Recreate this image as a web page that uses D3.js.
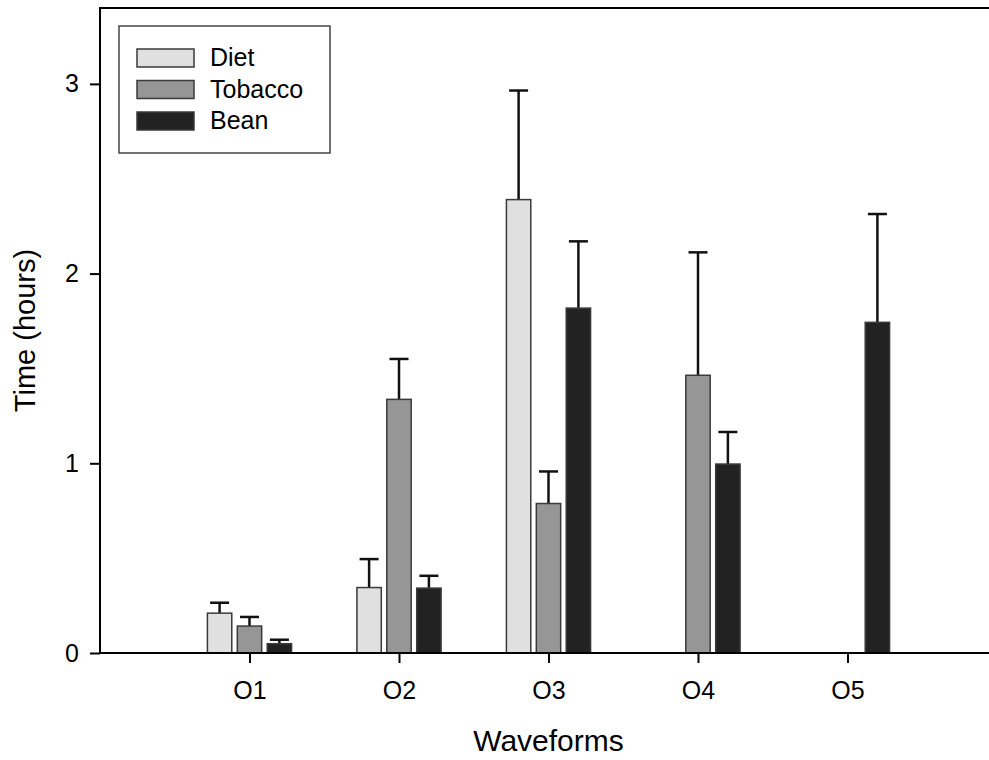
<!DOCTYPE html>
<html>
<head>
<meta charset="utf-8">
<script src="https://cdn.jsdelivr.net/npm/d3@7"></script>
<style>
  body { margin: 0; background: #fff; }
  text { font-family: "Liberation Sans", Arial, sans-serif; fill: #000; }
</style>
</head>
<body>
<div id="chart"></div>
<script>
// Données
const waveforms = ["O1", "O2", "O3", "O4", "O5"];
const seriesNames = ["Diet", "Tobacco", "Bean"];
const dietMeans = [0.21, 0.345, 2.39, null, null];
const dietErrors = [0.055, 0.15, 0.575, null, null];
const tobaccoMeans = [0.142, 1.337, 0.788, 1.464, null];
const tobaccoErrors = [0.048, 0.213, 0.169, 0.648, null];
const beanMeans = [0.049, 0.342, 1.818, 0.996, 1.743];
const beanErrors = [0.021, 0.065, 0.352, 0.169, 0.571];
const yTicks = [0, 1, 2, 3];

const colors = ["#e0e0e0", "#969696", "#222222"];
const means = [dietMeans, tobaccoMeans, beanMeans];
const errors = [dietErrors, tobaccoErrors, beanErrors];

const width = 989, height = 760;
const margin = { top: 8, right: -8, bottom: 107, left: 100 };

const svg = d3.select("#chart")
    .append("svg")
    .attr("width", width)
    .attr("height", height);

// Échelles : positions 1..5 sur un domaine 0..6
const x = d3.scaleLinear().domain([0, 6]).range([margin.left, width - margin.right]);
const y = d3.scaleLinear().domain([0, 3.4]).range([height - margin.bottom, margin.top]);

const barWidth = 0.163;   // en unités de catégorie
const barOffset = 0.2;

// Construction des barres
const bars = [];
seriesNames.forEach((name, s) => {
    waveforms.forEach((w, i) => {
        if (means[s][i] == null) return;
        bars.push({ s: s, i: i, value: means[s][i], err: errors[s][i] });
    });
});

const cx = d => x(d.i + 1 + (d.s - 1) * barOffset);

// Barres d'erreur (vers le haut seulement), dessinées sous les barres
const errG = svg.append("g")
    .attr("stroke", "#111")
    .attr("stroke-width", 2.5);

errG.selectAll(".err")
    .data(bars)
    .enter()
    .append("line")
    .attr("x1", cx).attr("x2", cx)
    .attr("y1", d => y(d.value))
    .attr("y2", d => y(d.value + d.err));

errG.selectAll(".cap")
    .data(bars)
    .enter()
    .append("line")
    .attr("x1", d => cx(d) - 9.5).attr("x2", d => cx(d) + 9.5)
    .attr("y1", d => y(d.value + d.err))
    .attr("y2", d => y(d.value + d.err));

svg.selectAll(".bar")
    .data(bars)
    .enter()
    .append("rect")
    .attr("class", "bar")
    .attr("x", d => cx(d) - (x(barWidth) - x(0)) / 2)
    .attr("width", x(barWidth) - x(0))
    .attr("y", d => y(d.value))
    .attr("height", d => y(0) - y(d.value))
    .attr("fill", d => colors[d.s])
    .attr("stroke", "#3a3a3a")
    .attr("stroke-width", 1.5);

// Cadre du graphique
svg.append("rect")
    .attr("x", x(0)).attr("y", y(3.4))
    .attr("width", x(6) - x(0))
    .attr("height", y(0) - y(3.4))
    .attr("fill", "none")
    .attr("stroke", "#000")
    .attr("stroke-width", 2);

// Axe Y
const yAxis = svg.append("g")
    .attr("transform", "translate(" + x(0) + ",0)")
    .call(d3.axisLeft(y).tickValues(yTicks).tickSize(10).tickPadding(11).tickFormat(d3.format("d")));
yAxis.select(".domain").remove();
yAxis.selectAll("line").attr("stroke-width", 2);
yAxis.selectAll("text").style("font-size", "25px").attr("font-family", null);

// Axe X
const xAxis = svg.append("g")
    .attr("transform", "translate(0," + y(0) + ")")
    .call(d3.axisBottom(x).tickValues([1, 2, 3, 4, 5]).tickSize(10).tickPadding(18)
        .tickFormat(d => waveforms[d - 1]));
xAxis.select(".domain").remove();
xAxis.selectAll("line").attr("stroke-width", 2);
xAxis.selectAll("text").style("font-size", "25px").attr("font-family", null);

// Titres des axes
svg.append("text")
    .attr("x", (x(0) + x(6)) / 2)
    .attr("y", 751)
    .attr("text-anchor", "middle")
    .style("font-size", "30px")
    .text("Waveforms");

svg.append("text")
    .attr("transform", "translate(35," + (y(0) + y(3.4)) / 2 + ") rotate(-90)")
    .attr("text-anchor", "middle")
    .style("font-size", "29px")
    .text("Time (hours)");

// Légende
const legend = svg.append("g");
legend.append("rect")
    .attr("x", 119).attr("y", 26)
    .attr("width", 211).attr("height", 127)
    .attr("fill", "#fff")
    .attr("stroke", "#444")
    .attr("stroke-width", 1.5);

const items = legend.selectAll(".item")
    .data(seriesNames)
    .enter()
    .append("g")
    .attr("transform", (d, i) => "translate(137," + (49 + i * 31.5) + ")");

items.append("rect")
    .attr("width", 57).attr("height", 18)
    .attr("fill", (d, i) => colors[i])
    .attr("stroke", "#3a3a3a")
    .attr("stroke-width", 1.5);

items.append("text")
    .attr("x", 73).attr("y", 17)
    .style("font-size", "25px")
    .text(d => d);
</script>
</body>
</html>
